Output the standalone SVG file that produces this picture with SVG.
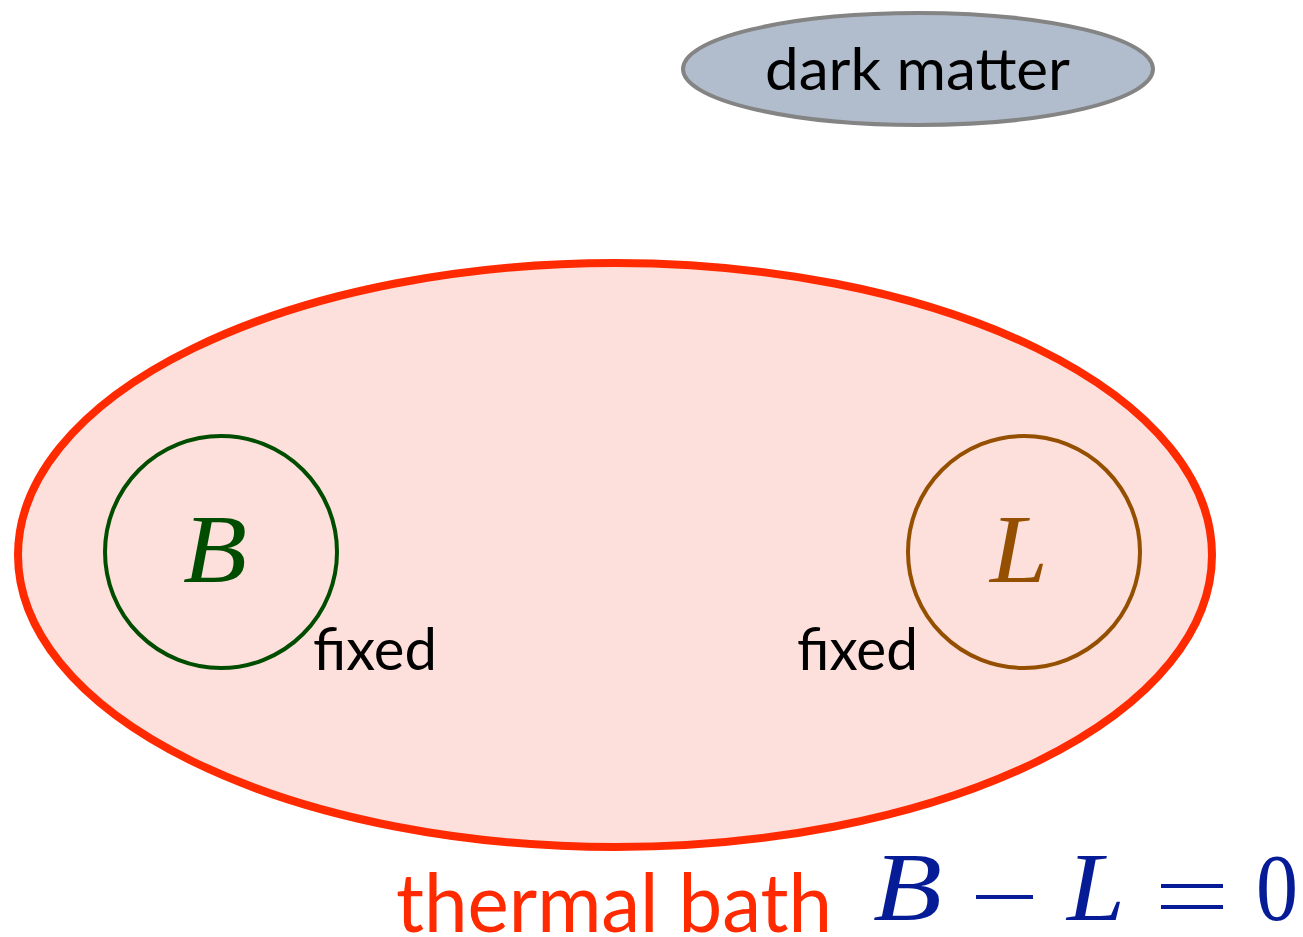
<svg xmlns="http://www.w3.org/2000/svg" width="1303" height="937" viewBox="0 0 1303 937">
<style>
.sans{font-family:Lato,"Open Sans","Liberation Sans",sans-serif;}
.math{font-family:"Liberation Serif","DejaVu Serif",serif;font-style:italic;}
.mathup{font-family:"Liberation Serif","DejaVu Serif",serif;font-style:normal;}
</style>
<rect width="1303" height="937" fill="#ffffff"/>
<g id="thermal-bath">
<ellipse cx="615" cy="555" rx="597" ry="292" fill="#fde0dc" stroke="#ff2a00" stroke-width="8"/>
<text class="sans" x="396" y="932" font-size="82" fill="#ff2a00" textLength="436" lengthAdjust="spacingAndGlyphs">thermal bath</text>
</g>
<g id="dark-matter">
<ellipse cx="918" cy="69" rx="235" ry="56" fill="#b1bdcc" stroke="#848484" stroke-width="4"/>
<text class="sans" x="765" y="90" font-size="58" fill="#000" textLength="305" lengthAdjust="spacingAndGlyphs">dark matter</text>
</g>
<g id="baryon">
<circle cx="221" cy="552" r="116" fill="none" stroke="#004d00" stroke-width="4"/>
<text class="math" x="183" y="582" font-size="98" fill="#004d00" textLength="64" lengthAdjust="spacingAndGlyphs">B</text>
<text class="sans" x="313" y="670" font-size="58" fill="#000" textLength="124" lengthAdjust="spacingAndGlyphs">fixed</text>
</g>
<g id="lepton">
<circle cx="1024" cy="552" r="116" fill="none" stroke="#944f00" stroke-width="4"/>
<text class="math" x="990" y="582" font-size="98" fill="#944f00" textLength="58" lengthAdjust="spacingAndGlyphs">L</text>
<text class="sans" x="797" y="670" font-size="58" fill="#000" textLength="121" lengthAdjust="spacingAndGlyphs">fixed</text>
</g>
<g id="equation" fill="#061c96">
<text class="math" x="873" y="920" font-size="98" textLength="69" lengthAdjust="spacingAndGlyphs">B</text>
<rect x="976" y="895" width="57" height="4"/>
<text class="math" x="1067" y="920" font-size="98" textLength="58" lengthAdjust="spacingAndGlyphs">L</text>
<rect x="1161" y="884" width="62" height="4"/>
<rect x="1161" y="905" width="62" height="4"/>
<text class="mathup" x="1256" y="920" font-size="96" textLength="42" lengthAdjust="spacingAndGlyphs">0</text>
</g>
<g id="connectors"/>
</svg>
